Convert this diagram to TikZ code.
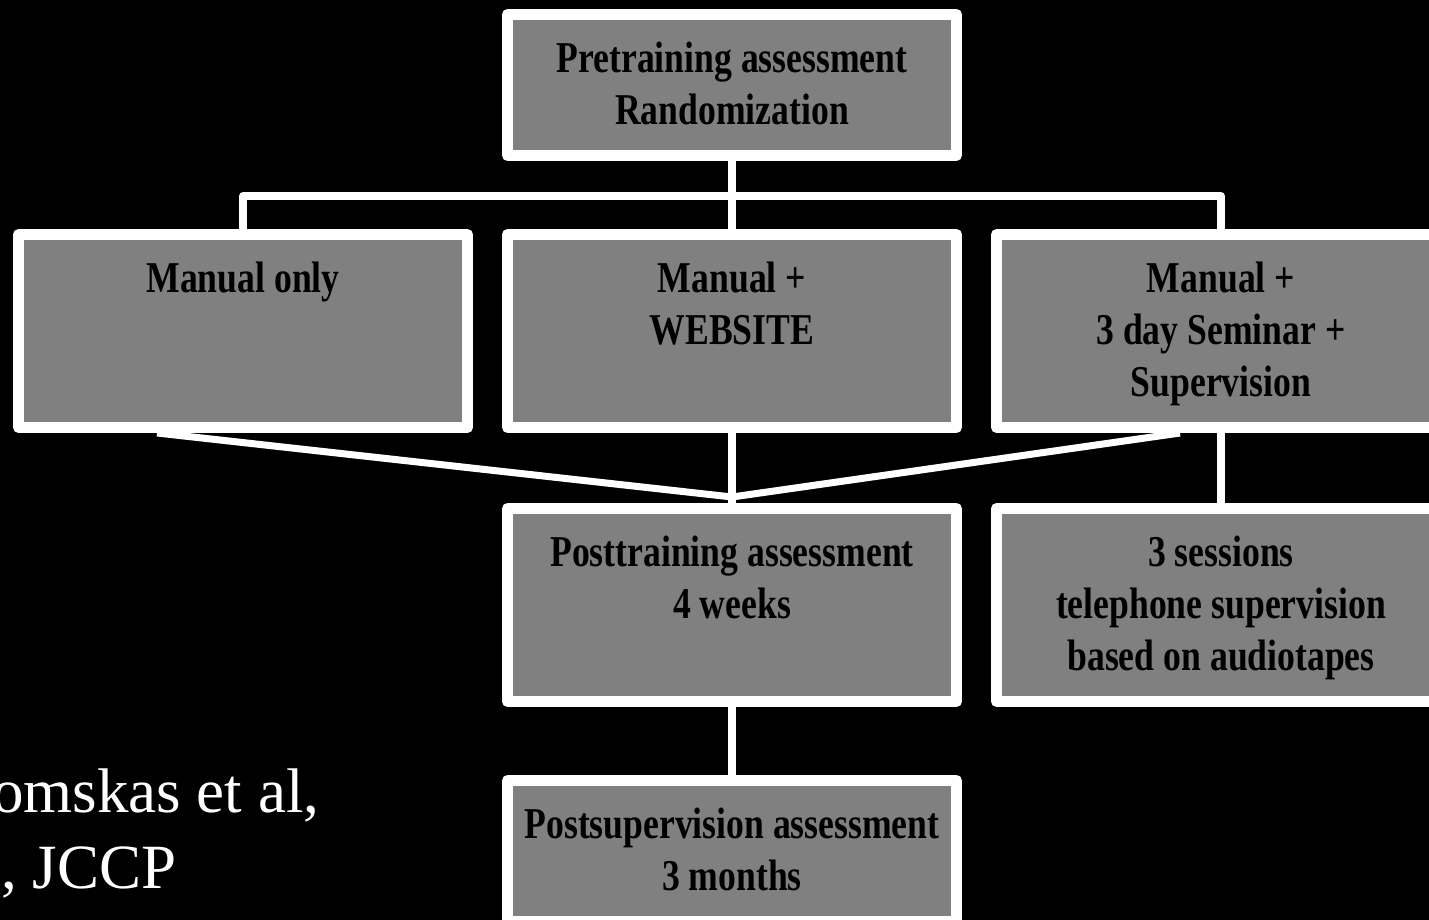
\documentclass[tikz,border=0pt]{standalone}
\usepackage{fontspec}
\setmainfont{Liberation Serif}
\newfontfamily\boxfont[FakeStretch=0.81]{Liberation Serif}
\usepackage{tikz}

\begin{document}
\begin{tikzpicture}[x=1pt, y=-1pt,
    stagebox/.style={draw=white, line width=11pt, line join=round, fill=gray,
        inner sep=0pt, minimum width=449pt, text width=449pt, align=center,
        anchor=north west, text height=58pt,
        font=\boxfont\bfseries\fontsize{44}{52}\selectfont,
        execute at begin node={\spaceskip=9pt\relax}},
    tallbox/.style={stagebox, text depth=135pt},
    flatbox/.style={stagebox, text depth=83pt},
    link/.style={draw=white, line width=7.5pt},
    cite/.style={anchor=base west, inner sep=0pt, text=white,
        font=\fontsize{63}{76}\selectfont}]
\fill[black] (0,0) rectangle (1429,920);
\useasboundingbox (0,0) rectangle (1429,920);

% stages
\node[flatbox] (pre) at (502,9) {Pretraining assessment\\Randomization};
\node[tallbox] (manual) at (13,229) {Manual only};
\node[tallbox] (web) at (502,229) {Manual +\\WEBSITE};
\node[tallbox] (seminar) at (991,229) {Manual +\\3 day Seminar +\\Supervision};
\node[tallbox] (post) at (502,503) {Posttraining assessment\\4 weeks};
\node[tallbox] (phone) at (991,503) {3 sessions\\telephone supervision\\based on audiotapes};
\node[flatbox] (postsup) at (502,775) {Postsupervision assessment\\3 months};

\coordinate (fork) at (732,196);
\coordinate (merge) at (732,497);

% connectors
\draw[link] (pre.south) -- (web.north);
\draw[link, line join=round] (manual.north) |- (fork) -| (seminar.north);
\draw[link] (web.south) -- (post.north);
\draw[link, line width=7pt, line join=round] ([xshift=-86pt]manual.south) -- (merge) -- ([xshift=-41pt]seminar.south);
\draw[link] (seminar.south) -- (phone.north);
\draw[link] (post.south) -- (postsup.north);

\node[cite] (cite1) at (-8,812) {omskas et al,};
\node[cite] (cite2) at (1,888) {, JCCP};
\end{tikzpicture}
\end{document}
